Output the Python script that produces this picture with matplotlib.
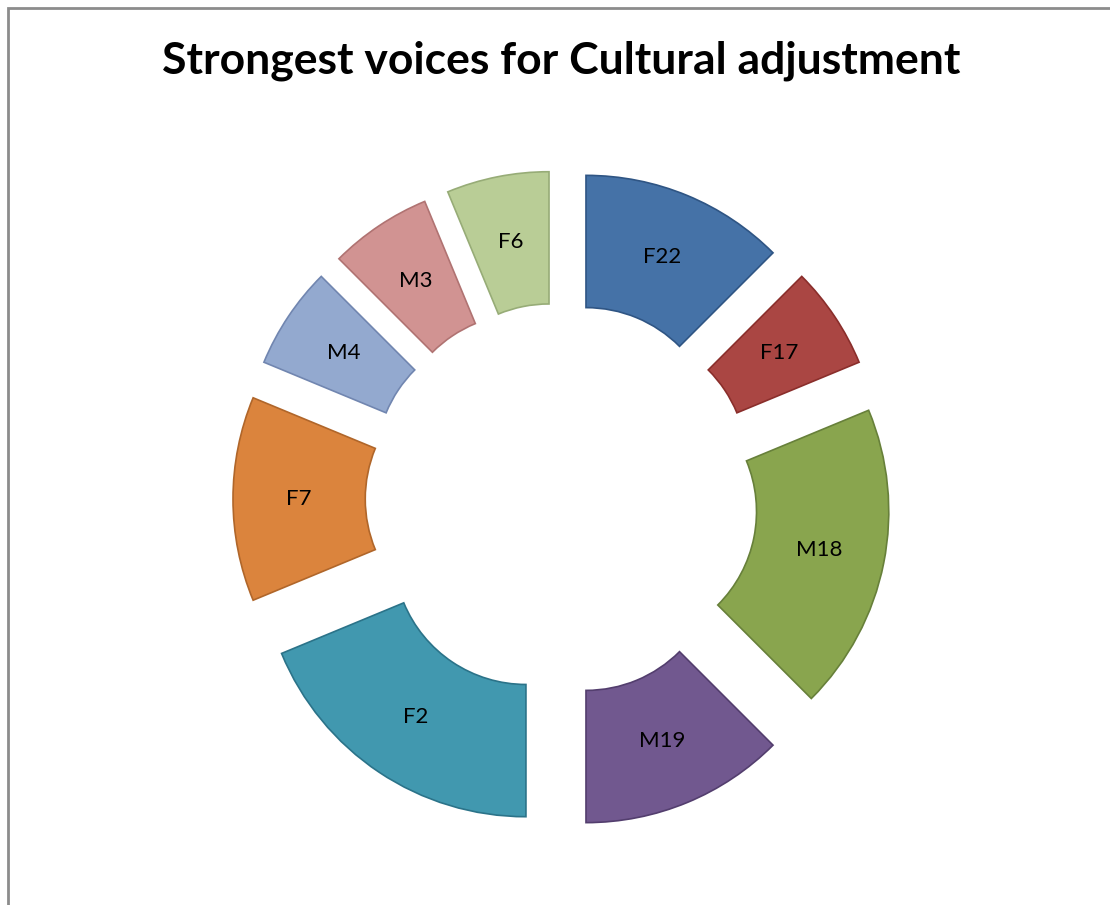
import matplotlib.pyplot as plt
from matplotlib.patches import Rectangle

# doughnut with exploded segments, clockwise from 12 o'clock
labels = ["F22", "F17", "M18", "M19", "F2", "F7", "M4", "M3", "F6"]
values = [2, 1, 3, 2, 3, 2, 1, 1, 1]
colors = ["#4572A7", "#AA4643", "#89A54E", "#71588F", "#4198AF",
          "#DB843D", "#93A9CF", "#D19392", "#B9CD96"]
edges = ["#2F5584", "#8A2E2B", "#67803A", "#533E6E", "#2B7389",
         "#B0662A", "#7186B0", "#B07372", "#97AC77"]

plt.rcParams['font.family'] = ['Lato', 'DejaVu Sans']

fig = plt.figure(figsize=(11.1, 9.05), dpi=100)
ax = fig.add_axes([0, 0, 1, 1])

r = 264.5
wedges, texts = ax.pie(values, labels=labels, colors=colors,
                       startangle=90, counterclock=False,
                       radius=r, center=(561.5, 406),
                       explode=[64] * len(values),
                       labeldistance=0.75,
                       wedgeprops=dict(width=r / 2, linewidth=1.2),
                       textprops=dict(fontsize=16, color="black"))
for w, ec in zip(wedges, edges):
    w.set_edgecolor(ec)
for t in texts:
    t.set_ha("center")
    t.set_va("center")

ax.set_xlim(0, 1110)
ax.set_ylim(0, 905)
ax.set_aspect("equal")
ax.axis("off")

ax.text(561, 844, "Strongest voices for Cultural adjustment",
        ha="center", va="center", fontsize=32, fontweight="bold")

fig.patches.append(Rectangle((8, -20), 1200, 917, transform=None,
                             fill=False, edgecolor="#8C8C8C", linewidth=2))

fig.savefig("out.png", dpi=100)
